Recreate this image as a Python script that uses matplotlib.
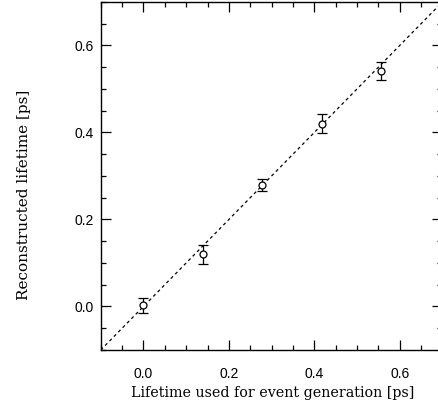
import numpy as np
import matplotlib
matplotlib.use("Agg")
import matplotlib.pyplot as plt
from matplotlib.ticker import MultipleLocator

# generated lifetime vs reconstructed lifetime [ps]
gen_lifetime = [0.0, 0.139, 0.278, 0.417, 0.556]
reco_lifetime = [0.003, 0.120, 0.280, 0.420, 0.542]
reco_err = [0.017, 0.022, 0.014, 0.022, 0.021]

diag = [-0.1, 0.7]

fig = plt.figure(figsize=(4.38, 4.16), dpi=100)
ax = fig.add_axes([0.23, 0.1587, 0.780, 0.8365])

ax.plot(diag, diag, color="black", lw=0.9, ls=(0, (2.5, 2.5)))
ax.errorbar(gen_lifetime, reco_lifetime, yerr=reco_err, fmt="o", mfc="white",
            mec="black", color="black", ms=5, mew=0.9, elinewidth=0.9,
            capsize=3.5, capthick=0.9)

ax.set_xlim(-0.1, 0.7)
ax.set_ylim(-0.1, 0.7)
ax.xaxis.set_major_locator(MultipleLocator(0.2))
ax.yaxis.set_major_locator(MultipleLocator(0.2))
ax.xaxis.set_minor_locator(MultipleLocator(0.05))
ax.yaxis.set_minor_locator(MultipleLocator(0.05))
ax.tick_params(which="both", direction="in", top=True, right=True, width=0.9)
ax.tick_params(which="major", length=7)
ax.tick_params(which="minor", length=3.5)
ax.tick_params(axis="x", which="major", pad=12)
ax.tick_params(axis="y", which="major", pad=5)
for lab in ax.get_xticklabels() + ax.get_yticklabels():
    lab.set_fontfamily("Liberation Sans")
    lab.set_fontsize(10)
for s in ax.spines.values():
    s.set_linewidth(1.0)

ax.set_xlabel("Lifetime used for event generation [ps]", family="DejaVu Serif",
              fontsize=10.3, va="center")
ax.xaxis.set_label_coords(0.503, -0.124)
ax.set_ylabel("Reconstructed lifetime [ps]", family="DejaVu Serif",
              fontsize=11, va="center")
ax.yaxis.set_label_coords(-0.226, 0.445)

fig.savefig("out.png", dpi=100)
